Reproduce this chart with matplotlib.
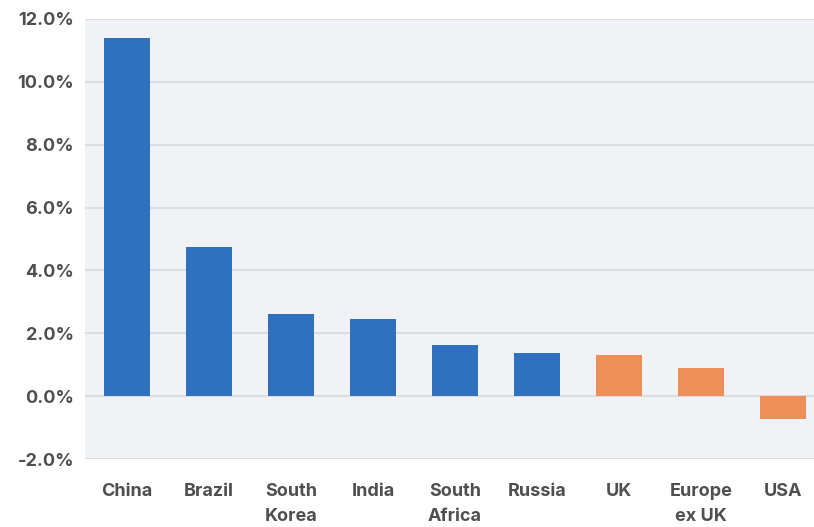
#!/usr/bin/env python3

from matplotlib import pyplot, ticker
import matplotlib

matplotlib.use("Agg")
pyplot.rcParams['axes.unicode_minus'] = False

COUNTRIES = ["China", "Brazil", "South\nKorea", "India", "South\nAfrica",
             "Russia", "UK", "Europe\nex UK", "USA"]
GROWTH = [11.4, 4.75, 2.6, 2.45, 1.62, 1.36, 1.30, 0.91, -0.73]
EMERGING = [True, True, True, True, True, True, False, False, False]

BLUE = '#2f70bf'
ORANGE = '#ec8f59'
TEXT = '#4f4f4f'


def plot():
    figure = pyplot.figure(figsize=(8.14, 5.27), dpi=100)
    axes = figure.add_axes([0.1044, 0.129, 0.8956, 0.835])
    axes.set_facecolor('#f1f2f5')

    for side in ("top", "right", "left", "bottom"):
        axes.spines[side].set_visible(False)

    colours = [BLUE if em else ORANGE for em in EMERGING]
    x = range(len(COUNTRIES))
    axes.bar(x, GROWTH, width=0.56, color=colours, zorder=3)

    axes.set_xlim(-0.512, len(COUNTRIES) - 1 + 0.378)
    axes.set_ylim(-2, 12)
    axes.set_yticks(range(-2, 13, 2))
    axes.yaxis.set_major_formatter(ticker.StrMethodFormatter('{x:.1f}%'))
    axes.grid(axis='y', color='#dadcdf', linewidth=1.5, zorder=0)

    axes.set_xticks(list(x))
    axes.set_xticklabels(COUNTRIES, linespacing=1.65)
    axes.tick_params(axis='x', length=0, pad=17, labelsize=13, labelcolor=TEXT)
    axes.tick_params(axis='y', length=0, pad=8, labelsize=13, labelcolor=TEXT)
    for label in axes.get_xticklabels() + axes.get_yticklabels():
        label.set_fontweight('bold')
        label.set_fontfamily('Inter')
    for label in axes.get_xticklabels():
        label.set_verticalalignment('top')

    figure.savefig("out.png", dpi=100)


if __name__ == '__main__':
    plot()
